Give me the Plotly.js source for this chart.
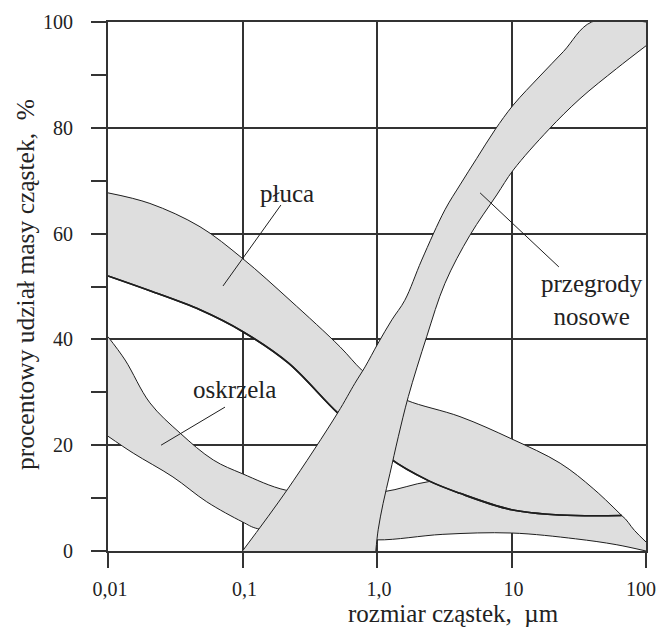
<!DOCTYPE html>
<html>
<head>
<meta charset="utf-8">
<script src="https://cdn.plot.ly/plotly-3.0.1.min.js"></script>
<style>body{margin:0;padding:0;background:#fff;}#chart{width:659px;height:627px;}</style>
</head>
<body>
<div id="chart"></div>
<script>
// ---- data ----
// x: particle size in µm (log axis), y: % of particle mass deposited
var xTickVals = [0.01, 0.1, 1, 10, 100];
var xTickText = ['0,01', '0,1', '1,0', '10', '100'];
var yTickVals = [0, 20, 40, 60, 80, 100];

// oskrzela (bronchi) band, both edges left -> right
var bronchiUpperX = [0.01, 0.0134, 0.0205, 0.0343, 0.0607, 0.1, 0.21, 0.5, 1.12, 2.41, 5, 20, 45, 66, 82, 100];
var bronchiUpperY = [40.5, 36.1, 28, 22.3, 17.2, 14.6, 11.5, 10.8, 11.2, 13.1, 13.5, 11, 8.5, 6.7, 3.9, 1.7];
var bronchiLowerX = [0.01, 0.0154, 0.0304, 0.0542, 0.1, 0.13, 0.5, 1.0, 3.09, 10, 30, 60, 100];
var bronchiLowerY = [21.7, 18.5, 14, 9.3, 5.5, 4.2, 3.0, 2.1, 3.15, 3.4, 2.3, 1.2, 0];

// płuca (lungs) band, both edges left -> right
var lungUpperX = [0.01, 0.0205, 0.0483, 0.1, 0.2255, 0.531, 0.77, 1.1, 1.66, 4.14, 10, 23, 40.5, 66];
var lungUpperY = [67.7, 65.7, 61.3, 55.3, 47.4, 38.6, 34.2, 31, 28.5, 25.4, 21.2, 16.6, 11.8, 6.7];
var lungLowerX = [0.01, 0.0205, 0.0483, 0.1, 0.22, 0.51, 0.85, 1.25, 2.41, 4.14, 10, 23, 66];
var lungLowerY = [52, 49.2, 45.6, 41.5, 35.5, 26.1, 21.5, 17.5, 13.3, 10.9, 7.8, 6.8, 6.7];

// przegrody nosowe (nasal passages) band, both edges bottom -> top
var nasalLeftX = [0.1, 0.214, 0.51, 0.685, 0.815, 1.02, 1.29, 1.61, 2.15, 3.2, 4.14, 5.51, 7.53, 10.3, 16.3, 24.3, 39.4, 100];
var nasalLeftY = [0, 11.5, 26.1, 31.7, 34.8, 39.3, 43.7, 47.4, 55, 64.5, 69.2, 74.2, 79.6, 84.3, 89.8, 94.4, 100, 100];
var nasalRightX = [0.98, 1.02, 1.11, 1.25, 1.44, 1.71, 2.34, 3.2, 4.91, 7.76, 10.3, 18.8, 32.3, 60.5, 100];
var nasalRightY = [0, 4, 9, 14.7, 21.6, 29.2, 40.5, 50.6, 59.7, 67.3, 72, 79.6, 85.5, 91.2, 95.5];

// labels and leader lines
var labelText = ['płuca', 'oskrzela', 'przegrody<br>nosowe'];
var labelX = [0.214, 0.0865, 39.7];
var labelY = [67.6, 30.6, 47.4];
var leaderLungX = [0.193, 0.0716], leaderLungY = [65.4, 50.1];
var leaderBronchiX = [0.0741, 0.0248], leaderBronchiY = [27.2, 20.0];
var leaderNasalX = [5.84, 22.5], leaderNasalY = [67.7, 53.7];

var xTitle = 'rozmiar cząstek,\u00a0\u00a0µm';
var yTitle = 'procentowy udział masy cząstek,\u00a0\u00a0%';

// ---- build ----
var FILL = '#dedede', EDGE = '#1e1e1e', GRID = '#333333';
var FONT = '"Liberation Serif", "Times New Roman", serif';

function edge(xs, ys, w, fill) {
  return {x: xs, y: ys, mode: 'lines', fill: fill ? 'tonexty' : 'none', fillcolor: FILL,
          line: {color: EDGE, width: w, shape: 'spline', smoothing: 1},
          hoverinfo: 'skip', showlegend: false};
}
function line(xs, ys, w) {
  return {x: xs, y: ys, mode: 'lines', line: {color: EDGE, width: w || 1},
          hoverinfo: 'skip', showlegend: false};
}

var traces = [
  edge(bronchiLowerX, bronchiLowerY, 1, false),
  edge(bronchiUpperX, bronchiUpperY, 1, true),
  edge(lungLowerX, lungLowerY, 1.6, false),
  edge(lungUpperX, lungUpperY, 1, true),
  edge(lungLowerX, lungLowerY, 1.6, false),
  edge(nasalRightX, nasalRightY, 1, false),
  edge(nasalLeftX, nasalLeftY, 1, true),
  line(leaderLungX, leaderLungY, 1),
  line(leaderBronchiX, leaderBronchiY, 1),
  line(leaderNasalX, leaderNasalY, 1)
];

var W = 659, H = 627, ML = 108, MR = 13, MT = 22, MB = 76;
function px2paperX(p) { return (p - ML) / (W - ML - MR); }
function px2paperY(p) { return (H - MB - p) / (H - MT - MB); }

// the last x tick label sits at the right edge of the page: drawn as a right-anchored
// annotation so that it stays inside the picture
var lastIdx = xTickVals.length - 1;
var axisTickText = xTickText.map(function (t, i) { return i === lastIdx ? '' : t; });

var annotations = labelText.map(function (t, i) {
  return {x: Math.log10(labelX[i]), y: labelY[i], xref: 'x', yref: 'y', text: t, showarrow: false,
          xanchor: 'center', yanchor: 'middle',
          font: {family: FONT, size: 25, color: '#222'}, align: 'center'};
});
annotations.push({x: Math.log10(xTickVals[lastIdx]), y: px2paperY(589), xref: 'x', yref: 'paper',
                  xanchor: 'right', yanchor: 'middle', xshift: 12, text: xTickText[lastIdx], showarrow: false,
                  font: {family: FONT, size: 20, color: '#222'}});
annotations.push({x: px2paperX(453), y: px2paperY(613), xref: 'paper', yref: 'paper',
                  xanchor: 'center', yanchor: 'middle', text: xTitle, showarrow: false,
                  font: {family: FONT, size: 25, color: '#222'}});
annotations.push({x: px2paperX(25), y: px2paperY(285), xref: 'paper', yref: 'paper',
                  xanchor: 'center', yanchor: 'middle', text: yTitle, showarrow: false, textangle: -90,
                  font: {family: FONT, size: 25.5, color: '#222'}});

var layout = {
  width: W, height: H,
  margin: {l: ML, r: MR, t: MT, b: MB},
  paper_bgcolor: '#fff', plot_bgcolor: '#fff',
  showlegend: false,
  font: {family: FONT},
  xaxis: {
    type: 'log', range: [-2, 2], tickvals: xTickVals, ticktext: axisTickText,
    showgrid: true, gridcolor: GRID, gridwidth: 2,
    ticks: 'outside', ticklen: 15, tickwidth: 2, tickcolor: GRID,
    showline: true, linecolor: GRID, linewidth: 2, mirror: true, zeroline: false,
    tickfont: {family: FONT, size: 20, color: '#222'}, ticklabelstandoff: 4, ticklabelshift: 2,
    ticklabeloverflow: 'allow'
  },
  yaxis: {
    range: [0, 100], tickvals: yTickVals,
    showgrid: true, gridcolor: GRID, gridwidth: 2,
    ticks: 'outside', ticklen: 15, tickwidth: 2, tickcolor: GRID,
    minor: {dtick: 10, tick0: 0, ticks: 'outside', ticklen: 15, tickwidth: 2, tickcolor: GRID, showgrid: false},
    showline: true, linecolor: GRID, linewidth: 2, mirror: true, zeroline: false,
    tickfont: {family: FONT, size: 20, color: '#222'}, ticklabelstandoff: 14,
    ticklabeloverflow: 'allow'
  },
  annotations: annotations
};

Plotly.newPlot('chart', traces, layout, {displayModeBar: false, staticPlot: true});
</script>
</body>
</html>
